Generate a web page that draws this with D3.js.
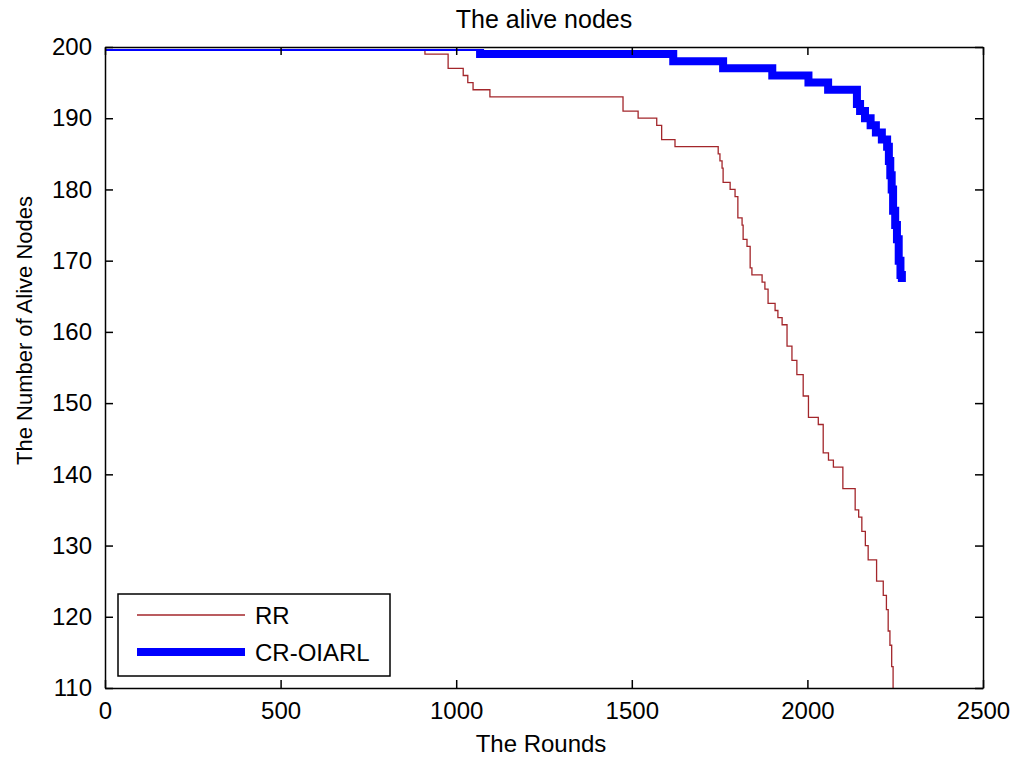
<!DOCTYPE html>
<html>
<head>
<meta charset="utf-8">
<script src="https://cdn.jsdelivr.net/npm/d3@7"></script>
<style>
  html, body { margin: 0; padding: 0; background: #fff; }
  svg text { font-family: "Liberation Sans", Arial, sans-serif; fill: #000; }
</style>
</head>
<body>
<div id="chart"></div>
<script>
// rounds at which the alive-node count changes (step after)
const rrRounds = [0, 911, 977, 1020, 1033, 1048, 1096, 1475, 1518, 1571, 1585, 1623, 1746, 1751, 1757, 1760,
  1780, 1794, 1802, 1814, 1817, 1828, 1837, 1842, 1871, 1879, 1888, 1908, 1916, 1928, 1942, 1956, 1970, 1988,
  2003, 2031, 2045, 2060, 2074, 2101, 2136, 2146, 2155, 2165, 2173, 2197, 2216, 2225, 2230, 2235, 2240, 2244, 2247];
const rrAlive = [200, 199, 197, 196, 195, 194, 193, 191, 190, 189, 187, 186, 185, 184, 183, 181,
  180, 179, 176, 175, 173, 172, 169, 168, 167, 166, 164, 163, 162, 161, 158, 156, 154, 151,
  148, 147, 143, 142, 141, 138, 135, 134, 132, 130, 128, 125, 123, 121, 118, 116, 113, 109, 105];

const crRounds = [0, 1068, 1618, 1760, 1900, 2003, 2059, 2141, 2150, 2164, 2180, 2195, 2212, 2227, 2232,
  2236, 2240, 2244, 2250, 2255, 2260, 2265, 2269];
const crAlive = [200, 199, 198, 197, 196, 195, 194, 192, 191, 190, 189, 188, 187, 186, 184,
  182, 180, 177, 175, 173, 170, 168, 167];

const xTicks = [0, 500, 1000, 1500, 2000, 2500];
const yTicks = [110, 120, 130, 140, 150, 160, 170, 180, 190, 200];

const series = [
  { name: 'RR', rounds: rrRounds, alive: rrAlive, color: '#a3262b', width: 1.3 },
  { name: 'CR-OIARL', rounds: crRounds, alive: crAlive, color: '#0000ff', width: 8 }
];

const width = 1013, height = 759;
const margin = { top: 47, right: 30, bottom: 71, left: 105 };
const innerW = width - margin.left - margin.right;
const innerH = height - margin.top - margin.bottom;

const svg = d3.select('#chart').append('svg')
  .attr('width', width)
  .attr('height', height);

const g = svg.append('g').attr('transform', `translate(${margin.left},${margin.top})`);

const x = d3.scaleLinear().domain([0, 2500]).range([0, innerW]);
const y = d3.scaleLinear().domain([110, 200]).range([innerH, 0]);

// clip a little below the top edge so the 200-level lines mostly hide under the border
g.append('clipPath').attr('id', 'plot-clip')
  .append('rect').attr('y', 2).attr('width', innerW).attr('height', innerH - 2);

const line = d3.line()
  .x(d => x(d[0]))
  .y(d => y(d[1]))
  .curve(d3.curveStepAfter);

const lines = g.append('g').attr('clip-path', 'url(#plot-clip)');
series.forEach(s => {
  lines.append('path')
    .datum(s.rounds.map((r, i) => [r, s.alive[i]]))
    .attr('fill', 'none')
    .attr('stroke', s.color)
    .attr('stroke-width', s.width)
    .attr('stroke-linejoin', 'miter')
    .attr('d', line);
});

// axes, ticks pointing inward like matlab
const tickLen = 8;
const fontSize = 24;
const fmt = d3.format('d');

const xAxis = g.append('g').attr('transform', `translate(0,${innerH})`)
  .call(d3.axisBottom(x).tickValues(xTicks).tickFormat(fmt).tickSize(-tickLen).tickPadding(14).tickSizeOuter(0));
const xAxisTop = g.append('g')
  .call(d3.axisTop(x).tickValues(xTicks).tickSize(-tickLen).tickFormat('').tickSizeOuter(0));
const yAxis = g.append('g')
  .call(d3.axisLeft(y).tickValues(yTicks).tickFormat(fmt).tickSize(-tickLen).tickPadding(13).tickSizeOuter(0));
const yAxisRight = g.append('g').attr('transform', `translate(${innerW},0)`)
  .call(d3.axisRight(y).tickValues(yTicks).tickSize(-tickLen).tickFormat('').tickSizeOuter(0));

[xAxis, xAxisTop, yAxis, yAxisRight].forEach(a => {
  a.select('.domain').attr('stroke', '#000').attr('stroke-width', 1.5);
  a.selectAll('.tick line').attr('stroke', '#000').attr('stroke-width', 1.5);
  a.selectAll('.tick text').style('font-size', fontSize + 'px').attr('fill', '#000');
});
xAxis.selectAll('.tick text').attr('dy', '0.71em');

// title and axis labels
svg.append('text')
  .attr('x', margin.left + innerW / 2)
  .attr('y', 28)
  .attr('text-anchor', 'middle')
  .style('font-size', '25px')
  .text('The alive nodes');

svg.append('text')
  .attr('x', margin.left + innerW / 2 - 3)
  .attr('y', 752)
  .attr('text-anchor', 'middle')
  .style('font-size', fontSize + 'px')
  .text('The Rounds');

svg.append('text')
  .attr('transform', `translate(32,${margin.top + innerH / 2 - 37}) rotate(-90)`)
  .attr('text-anchor', 'middle')
  .style('font-size', '22px')
  .text('The Number of Alive Nodes');

// legend
const legend = svg.append('g').attr('transform', 'translate(118,594)');
legend.append('rect')
  .attr('width', 272).attr('height', 82)
  .attr('fill', '#fff').attr('stroke', '#000').attr('stroke-width', 1.5);

series.forEach((s, i) => {
  const ly = 21 + i * 37;
  legend.append('line')
    .attr('x1', 19).attr('x2', 127)
    .attr('y1', ly).attr('y2', ly)
    .attr('stroke', s.color).attr('stroke-width', s.width);
  legend.append('text')
    .attr('x', 137).attr('y', ly)
    .attr('dy', '0.36em')
    .style('font-size', fontSize + 'px')
    .text(s.name);
});
</script>
</body>
</html>
